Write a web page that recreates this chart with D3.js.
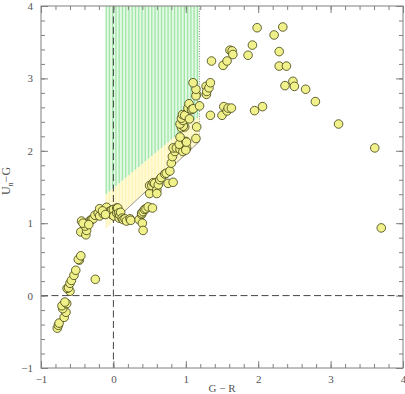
<!DOCTYPE html>
<html><head><meta charset="utf-8">
<script src="https://cdn.jsdelivr.net/npm/d3@7"></script>
<style>body{margin:0;background:#fff}svg{display:block}</style>
</head><body>
<svg id="c" width="405" height="394"></svg>
<script>
// G-R colour (x) and U_n-G colour (y) of the points
const gr = [-0.775,-0.76,-0.75,-0.68,-0.655,-0.70,-0.71,-0.645,-0.67,-0.60,-0.64,-0.62,-0.60,-0.58,-0.545,-0.52,-0.47,-0.485,-0.45,-0.25,
 -0.45,-0.38,-0.37,-0.44,-0.39,-0.355,-0.32,-0.30,-0.28,-0.255,-0.21,-0.19,-0.19,-0.14,-0.095,-0.07,-0.06,-0.025,-0.025,0.0,0.005,0.045,0.045,0.06,0.07,0.08,0.09,0.10,0.12,0.135,0.16,0.18,0.23,0.24,-0.42,-0.34,-0.15,-0.11,
 0.355,0.39,0.39,0.41,0.43,0.45,0.48,0.54,0.40,0.41,
 0.50,0.50,0.53,0.55,0.57,0.60,0.60,0.62,0.64,0.66,0.71,0.73,0.78,0.755,0.825,0.80,0.815,0.85,0.825,0.87,0.92,0.96,0.91,1.01,1.00,1.00,1.01,0.92,0.94,0.985,0.965,0.92,0.96,0.94,0.955,0.985,1.05,1.14,1.15,1.03,1.045,1.08,1.10,1.19,1.15,1.14,1.14,1.10,1.28,1.285,1.29,1.32,1.34,1.355,
 1.34,1.50,1.525,1.57,1.585,1.63,1.515,1.57,1.61,1.64,1.65,1.86,1.92,1.985,1.95,2.06,2.22,2.34,2.29,2.29,2.39,2.37,2.48,2.50,2.655,2.79,3.11,3.61,3.70];
const ug = [-0.45,-0.41,-0.38,-0.30,-0.23,-0.18,-0.14,-0.11,-0.09,0.06,0.10,0.11,0.17,0.21,0.28,0.35,0.49,0.50,0.55,0.225,
 0.88,0.84,0.90,1.03,0.96,1.00,1.04,1.05,1.06,1.11,1.14,1.20,1.10,1.13,1.22,1.14,1.16,1.12,1.18,1.19,1.10,1.14,1.21,1.21,1.14,1.07,1.11,1.15,1.07,1.05,1.06,1.03,1.06,1.04,1.00,0.98,1.17,1.12,
 1.05,1.12,1.14,1.16,1.19,1.20,1.225,1.21,1.00,0.90,
 1.41,1.52,1.52,1.56,1.55,1.46,1.41,1.53,1.60,1.63,1.68,1.69,1.72,1.55,1.565,1.83,1.92,1.99,2.04,2.04,2.02,1.99,2.09,2.04,2.13,2.01,2.12,2.19,2.32,2.33,2.34,2.37,2.42,2.45,2.50,2.49,2.44,2.17,2.33,2.59,2.65,2.57,2.58,2.62,2.78,2.76,2.85,2.94,2.89,2.78,2.82,2.87,2.94,3.24,
 2.49,2.49,2.61,2.55,2.59,2.59,3.18,3.24,3.39,3.38,3.33,3.32,3.46,3.70,2.555,2.61,3.60,3.71,3.37,3.17,3.17,2.90,2.96,2.89,2.85,2.68,2.37,2.04,0.935];
// shaded regions: corner points [x,y]
const greenTop = [[-0.1,4],[1.19,4]];
const bandUpper = [[-0.1,1.40],[1.19,2.48]];
const bandLower = [[-0.1,0.93],[1.19,2.13]];
const xTicks = [-1,0,1,2,3,4];
const yTicks = [-1,0,1,2,3,4];

const svg = d3.select("#c");
const L=41,R=403,T=6,B=368;
const x = d3.scaleLinear([-1,4],[L,R]);
const y = d3.scaleLinear([-1,4],[B,T]);
const lineAt = (seg, xv) => seg[0][1] + (seg[1][1]-seg[0][1])*(xv-seg[0][0])/(seg[1][0]-seg[0][0]);

// yellow band
svg.append("path")
  .attr("d", d3.line()([bandUpper[0],bandUpper[1],bandLower[1],bandLower[0]].map(p=>[x(p[0]),y(p[1])])))
  .attr("fill","#fffbd4");
// green region
svg.append("path")
  .attr("d", d3.line()([greenTop[0],greenTop[1],bandUpper[1],bandUpper[0]].map(p=>[x(p[0]),y(p[1])])))
  .attr("fill","#e4f9e4");
const hatch = d3.range(greenTop[0][0], greenTop[1][0]+1e-6, 0.045);
svg.append("g").selectAll("line").data(hatch).join("line")
  .attr("x1",d=>x(d)).attr("x2",d=>x(d))
  .attr("y1",y(4)).attr("y2",d=>y(lineAt(bandUpper,d)))
  .attr("stroke","#9fe6a8").attr("stroke-width",1.3);
svg.append("g").selectAll("line").data(hatch).join("line")
  .attr("x1",d=>x(d)).attr("x2",d=>x(d))
  .attr("y1",d=>y(lineAt(bandUpper,d))).attr("y2",d=>y(lineAt(bandLower,d)))
  .attr("stroke","#fff3b8").attr("stroke-width",1.2);
// right dotted edge
svg.append("line").attr("x1",x(1.19)).attr("x2",x(1.19)).attr("y1",y(4)).attr("y2",y(bandLower[1][1]))
  .attr("stroke","#777").attr("stroke-width",0.8).attr("stroke-dasharray","1,1.5");
// lower edge
svg.append("line").attr("x1",x(0.05)).attr("y1",y(lineAt(bandLower,0.05)))
  .attr("x2",x(1.19)).attr("y2",y(bandLower[1][1]))
  .attr("stroke","#888").attr("stroke-width",0.9);

// dashed zero lines
svg.append("line").attr("x1",x(0)).attr("x2",x(0)).attr("y1",T).attr("y2",B)
  .attr("stroke","#444").attr("stroke-dasharray","7,3.5");
svg.append("line").attr("x1",L).attr("x2",R).attr("y1",y(0)).attr("y2",y(0))
  .attr("stroke","#444").attr("stroke-dasharray","7,3.5");

// points
svg.append("g").selectAll("circle").data(gr.map((v,i)=>[v,ug[i]])).join("circle")
  .attr("cx",d=>x(d[0])).attr("cy",d=>y(d[1])).attr("r",4.3)
  .attr("fill","#f1f18c").attr("stroke","#3d3d10").attr("stroke-width",0.8);

// axes & ticks
const minor = d3.range(-1,4.001,0.2).map(v=>+v.toFixed(2));
const col="#808080";
function ticks(axisFn, scale, tr){
  const gm = svg.append("g").attr("transform",tr).call(axisFn(scale).tickValues(minor).tickSize(-4).tickFormat(""));
  const gM = svg.append("g").attr("transform",tr).call(axisFn(scale).tickValues(xTicks).tickSize(-7).tickFormat(""));
  [gm,gM].forEach(g=>{g.selectAll("line").attr("stroke",col);g.select(".domain").remove();});
}
ticks(d3.axisBottom,x,`translate(0,${B})`);
ticks(d3.axisTop,x,`translate(0,${T})`);
ticks(d3.axisLeft,y,`translate(${L},0)`);
ticks(d3.axisRight,y,`translate(${R},0)`);
svg.append("rect").attr("x",L).attr("y",T).attr("width",R-L).attr("height",B-T)
  .attr("fill","none").attr("stroke",col).attr("stroke-width",1);

const font='"Liberation Serif","DejaVu Serif",serif';
const gx = svg.append("g").attr("transform",`translate(0,${B})`)
  .call(d3.axisBottom(x).tickValues(xTicks).tickSize(0).tickPadding(7).tickFormat(d3.format("d")));
const gy = svg.append("g").attr("transform",`translate(${L},0)`)
  .call(d3.axisLeft(y).tickValues(yTicks).tickSize(0).tickPadding(8).tickFormat(d3.format("d")));
[gx,gy].forEach(g=>{g.select(".domain").remove();
  g.selectAll("text").attr("font-family",font).attr("font-size",11).attr("fill","#555");});

svg.append("text").attr("x",(L+R)/2).attr("y",392).attr("text-anchor","middle")
  .attr("font-family",font).attr("font-size",11).attr("fill","#555").text("G − R");
const yl = svg.append("text").attr("transform","translate(10,181) rotate(-90)").attr("text-anchor","middle")
  .attr("font-family",font).attr("font-size",12).attr("fill","#555");
yl.append("tspan").text("U");
yl.append("tspan").attr("font-size",8).attr("dy",3).text("n");
yl.append("tspan").attr("dy",-3).text("−G");
</script>
</body></html>
